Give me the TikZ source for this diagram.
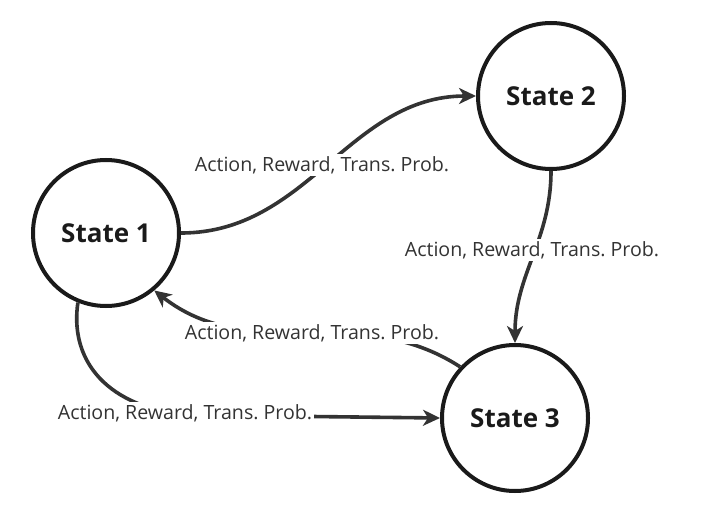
\documentclass[tikz,border=0pt]{standalone}
\usepackage{fontspec}
\setmainfont{Open Sans}
\usetikzlibrary{arrows.meta}
\definecolor{ink}{HTML}{333333}
\definecolor{rim}{HTML}{1A1A1A}
\frenchspacing
\begin{document}
\begin{tikzpicture}[x=1pt, y=1pt]
  \tikzstyle{stnode} = [draw=rim, line width=4pt, shape=circle, minimum size=146pt, inner sep=0pt, text=rim, font=\fontsize{26}{31}\selectfont\bfseries]
  \tikzstyle{trans} = [draw=ink, line width=3.6pt, -{Stealth[length=17pt,width=16pt,inset=5pt]}]
  \tikzstyle{lbl} = [fill=white, inner sep=2pt, text=ink, font=\fontsize{19.6}{23}\selectfont]
  \useasboundingbox (0,0) rectangle (706,515);
  % Zustände
  \node[stnode] (s1) at (106,282) {State 1};
  \node[stnode] (s2) at (551,419) {State 2};
  \node[stnode] (s3) at (515,97) {State 3};

  % Übergänge
  \draw[trans] (s1.east) to[out=0,in=180] (s2.west);
  \draw[trans] (s2.south) to[out=-90,in=90] (s3.north);
  \draw[trans] (s3.137) to[out=147,in=-38] (s1.-50);
  \draw[trans] (s1.-112) .. controls (70,160) and (100,110) .. (185,100) -- (s3.west);

  % Beschriftungen
  \node[lbl] (l12) at (322,350) {Action, Reward, Trans. Prob.};
  \node[lbl] (l23) at (532,265) {Action, Reward, Trans. Prob.};
  \node[lbl] (l31) at (312,182) {Action, Reward, Trans. Prob.};
  \node[lbl] (l13) at (185,102) {Action, Reward, Trans. Prob.};
\end{tikzpicture}
\end{document}
